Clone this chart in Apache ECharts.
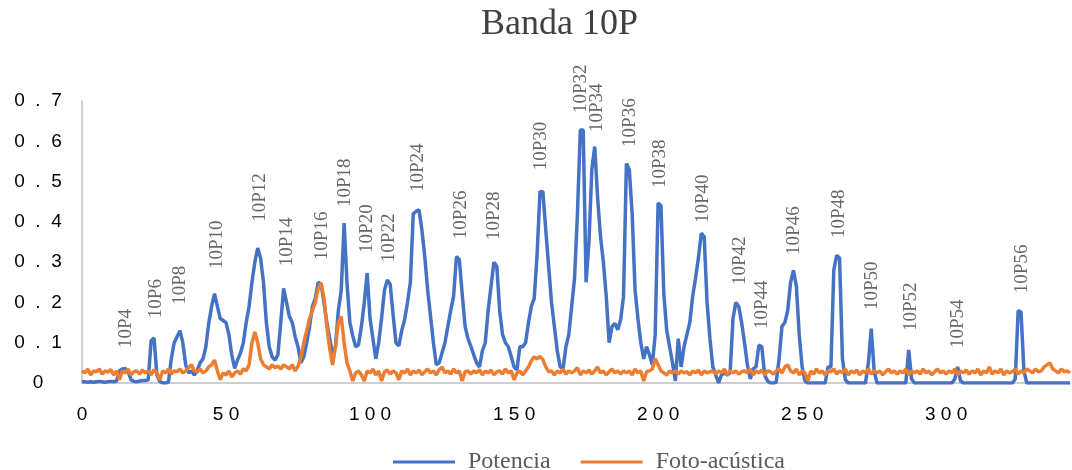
<!DOCTYPE html>
<html>
<head>
<meta charset="utf-8">
<script src="https://cdn.jsdelivr.net/npm/echarts@6/dist/echarts.min.js"></script>
<style>
  html, body { margin: 0; padding: 0; background: #fff; }
  #chart { width: 1072px; height: 470px; }
</style>
</head>
<body>
<div id="chart"></div>
<script>
// Potencia, one value per unit of x (0..343)
const potencia = [
  0.003, 0.003, 0.002, 0.003, 0.002, 0.003, 0.004, 0.003, 0.002, 0.003,
  0.004, 0.003, 0.005, 0.03, 0.035, 0.036, 0.03, 0.008, 0.004, 0.003,
  0.005, 0.006, 0.006, 0.008, 0.105, 0.112, 0.02, 0.004, 0.0, 0.0,
  0.002, 0.06, 0.1, 0.115, 0.13, 0.1, 0.045, 0.025, 0.03, 0.02,
  0.03, 0.05, 0.06, 0.09, 0.148, 0.19, 0.222, 0.19, 0.16, 0.155,
  0.15, 0.12, 0.07, 0.036, 0.057, 0.074, 0.1, 0.15, 0.19, 0.25,
  0.3, 0.335, 0.31, 0.25, 0.15, 0.09, 0.065, 0.057, 0.07, 0.15,
  0.235, 0.2, 0.165, 0.15, 0.115, 0.09, 0.05, 0.065, 0.1, 0.14,
  0.19, 0.21, 0.25, 0.245, 0.2, 0.15, 0.11, 0.07, 0.09, 0.18,
  0.23, 0.397, 0.248, 0.15, 0.117, 0.09, 0.095, 0.14, 0.2, 0.273,
  0.16, 0.11, 0.06, 0.1, 0.16, 0.23, 0.256, 0.245, 0.17, 0.1,
  0.092, 0.13, 0.157, 0.2, 0.25, 0.42, 0.426, 0.43, 0.38, 0.314,
  0.231, 0.166, 0.1, 0.045, 0.05, 0.075, 0.1, 0.14, 0.18, 0.215,
  0.314, 0.306, 0.22, 0.14, 0.11, 0.091, 0.07, 0.05, 0.04, 0.08,
  0.1, 0.18, 0.24, 0.3, 0.29, 0.18, 0.12, 0.1, 0.09, 0.066,
  0.04, 0.033, 0.09, 0.09, 0.1, 0.15, 0.19, 0.21, 0.32, 0.475,
  0.475, 0.38, 0.29, 0.2, 0.14, 0.08, 0.04, 0.035, 0.09, 0.12,
  0.19, 0.26, 0.42, 0.628, 0.628, 0.25, 0.35, 0.53, 0.587, 0.46,
  0.364, 0.3, 0.215, 0.1, 0.14, 0.148, 0.132, 0.157, 0.215, 0.545,
  0.53, 0.42, 0.231, 0.16, 0.1, 0.06, 0.09, 0.07, 0.045, 0.12,
  0.447, 0.44, 0.22, 0.13, 0.09, 0.05, 0.005, 0.11, 0.04, 0.09,
  0.12, 0.15, 0.215, 0.26, 0.31, 0.372, 0.363, 0.2, 0.11, 0.04,
  0.02, 0.0, 0.02, 0.025, 0.02, 0.025, 0.16, 0.2, 0.19, 0.15,
  0.1, 0.045, 0.01, 0.035, 0.04, 0.094, 0.09, 0.02, 0.005, 0.0,
  0.0, 0.002, 0.06, 0.14, 0.15, 0.18, 0.25, 0.28, 0.24, 0.12,
  0.04, 0.005, 0.0, 0.0, 0.0, 0.0, 0.0, 0.0, 0.0, 0.04,
  0.04, 0.28, 0.317, 0.31, 0.06, 0.008, 0.0, 0.0, 0.0, 0.0,
  0.0, 0.0, 0.0, 0.05, 0.135, 0.03, 0.0, 0.0, 0.0, 0.0,
  0.0, 0.0, 0.0, 0.0, 0.0, 0.0, 0.0, 0.082, 0.01, 0.0,
  0.0, 0.0, 0.0, 0.0, 0.0, 0.0, 0.0, 0.0, 0.0, 0.0,
  0.0, 0.0, 0.0, 0.01, 0.04, 0.005, 0.0, 0.0, 0.0, 0.0,
  0.0, 0.0, 0.0, 0.0, 0.0, 0.0, 0.0, 0.0, 0.0, 0.0,
  0.0, 0.0, 0.0, 0.0, 0.01, 0.18, 0.176, 0.03, 0.0, 0.0,
  0.0, 0.0, 0.0, 0.0, 0.0, 0.0, 0.0, 0.0, 0.0, 0.0,
  0.0, 0.0, 0.0, 0.0
]

// Foto-acústica, one value per unit of x (0..343)
const fotoacustica = [
  0.03, 0.025, 0.035, 0.02, 0.03, 0.028, 0.035, 0.022, 0.03, 0.027,
  0.033, 0.02, 0.03, 0.008, 0.03, 0.025, 0.035, 0.02, 0.028, 0.03,
  0.022, 0.032, 0.025, 0.03, 0.02, 0.033, 0.025, 0.008, 0.03, 0.025,
  0.035, 0.022, 0.03, 0.028, 0.035, 0.025, 0.03, 0.038, 0.045, 0.03,
  0.028, 0.035, 0.025, 0.03, 0.04, 0.045, 0.057, 0.03, 0.008, 0.025,
  0.02, 0.03, 0.015, 0.025, 0.03, 0.022, 0.035, 0.03, 0.045, 0.1,
  0.127, 0.1, 0.06, 0.045, 0.04, 0.035, 0.045, 0.038, 0.042, 0.035,
  0.045, 0.04, 0.035, 0.045, 0.03, 0.042, 0.063, 0.1, 0.13, 0.16,
  0.18, 0.2, 0.235, 0.248, 0.21, 0.14, 0.085, 0.045, 0.09, 0.15,
  0.165, 0.1, 0.05, 0.03, 0.005, 0.025, 0.03, 0.02, 0.005, 0.03,
  0.025, 0.035, 0.02, 0.03, 0.005, 0.028, 0.032, 0.022, 0.03, 0.025,
  0.008, 0.03, 0.025, 0.035, 0.02, 0.03, 0.025, 0.032, 0.02, 0.028,
  0.035, 0.025, 0.03, 0.02, 0.033, 0.04, 0.025, 0.03, 0.022, 0.035,
  0.025, 0.03, 0.005, 0.028, 0.03, 0.022, 0.03, 0.025, 0.033, 0.02,
  0.03, 0.025, 0.032, 0.02, 0.028, 0.03, 0.022, 0.035, 0.025, 0.03,
  0.008, 0.025, 0.03, 0.02, 0.03, 0.04, 0.055, 0.065, 0.06, 0.066,
  0.058, 0.04, 0.028, 0.03, 0.02, 0.03, 0.025, 0.035, 0.022, 0.03,
  0.025, 0.03, 0.038, 0.02, 0.03, 0.025, 0.032, 0.022, 0.03, 0.04,
  0.025, 0.03, 0.02, 0.028, 0.035, 0.025, 0.03, 0.022, 0.03, 0.025,
  0.03, 0.02, 0.035, 0.025, 0.03, 0.005, 0.028, 0.03, 0.035, 0.06,
  0.045, 0.03, 0.025, 0.02, 0.03, 0.025, 0.03, 0.022, 0.03, 0.025,
  0.028, 0.02, 0.03, 0.025, 0.032, 0.02, 0.03, 0.025, 0.028, 0.03,
  0.022, 0.03, 0.025, 0.035, 0.02, 0.03, 0.025, 0.03, 0.022, 0.028,
  0.03, 0.025, 0.035, 0.02, 0.03, 0.025, 0.032, 0.02, 0.03, 0.028,
  0.022, 0.03, 0.035, 0.025, 0.04, 0.045, 0.03, 0.025, 0.035, 0.02,
  0.03, 0.025, 0.005, 0.03, 0.022, 0.035, 0.025, 0.03, 0.02, 0.03,
  0.028, 0.035, 0.022, 0.03, 0.025, 0.035, 0.02, 0.03, 0.025, 0.032,
  0.02, 0.03, 0.025, 0.035, 0.022, 0.03, 0.025, 0.03, 0.02, 0.028,
  0.035, 0.025, 0.03, 0.022, 0.03, 0.025, 0.035, 0.02, 0.03, 0.025,
  0.03, 0.022, 0.035, 0.025, 0.03, 0.02, 0.028, 0.035, 0.025, 0.03,
  0.022, 0.03, 0.025, 0.035, 0.02, 0.03, 0.025, 0.032, 0.022, 0.03,
  0.025, 0.035, 0.02, 0.03, 0.025, 0.04, 0.022, 0.03, 0.025, 0.035,
  0.02, 0.03, 0.025, 0.028, 0.035, 0.022, 0.03, 0.025, 0.035, 0.03,
  0.025, 0.035, 0.028, 0.03, 0.04, 0.045, 0.05, 0.035, 0.03, 0.025,
  0.035, 0.028, 0.03, 0.025
]

// line names and where each label sits (x, y at its lower end)
const lineNames = ['10P4', '10P6', '10P8', '10P10', '10P12', '10P14', '10P16', '10P18', '10P20',
  '10P22', '10P24', '10P26', '10P28', '10P30', '10P32', '10P34', '10P36', '10P38', '10P40',
  '10P42', '10P44', '10P46', '10P48', '10P50', '10P52', '10P54', '10P56']
const lineX = [15.2, 25.7, 34.1, 46.9, 61.9, 71.3, 83.4, 91.4, 99, 106.7, 116.8, 131.7, 143.2,
  159.2, 173.1, 178.7, 190.1, 200.5, 215.5, 228.4, 236, 247.1, 262.8, 274.3, 287.8, 304.1, 326.4]
const lineY = [0.087, 0.161, 0.194, 0.283, 0.4, 0.29, 0.305, 0.437, 0.323, 0.3, 0.474, 0.357, 0.355,
  0.528, 0.67, 0.623, 0.586, 0.484, 0.397, 0.243, 0.134, 0.318, 0.36, 0.181, 0.129, 0.087, 0.223]

// spread the characters of a tick label
const spaced = (v, gap) => String(v).split('').join(gap)

const chart = echarts.init(document.getElementById('chart'))

chart.setOption({
  animation: false,
  title: {
    text: 'Banda 10P',
    left: 476,
    top: 2,
    textStyle: {
      fontFamily: 'Liberation Serif',
      fontSize: 36,
      fontWeight: 'normal',
      color: '#404040'
    }
  },
  legend: {
    data: ['Potencia', 'Foto-acústica'],
    icon: 'rect',
    left: 393,
    top: 450,
    padding: 0,
    itemWidth: 62,
    itemHeight: 3,
    itemGap: 30,
    textStyle: {
      fontFamily: 'Liberation Serif',
      fontSize: 24,
      lineHeight: 20,
      color: '#595959',
      padding: [0, 0, 0, 8]
    }
  },
  grid: {
    left: 82,
    right: 2,
    top: 101,
    bottom: 87
  },
  xAxis: {
    type: 'value',
    min: 0,
    max: 343,
    interval: 50,
    splitLine: { show: false },
    axisTick: { show: false },
    axisLine: { lineStyle: { color: '#bfbfbf', width: 1.5 } },
    axisLabel: {
      showMaxLabel: false,
      margin: 22,
      fontFamily: 'Liberation Sans',
      fontSize: 19,
      color: '#000',
      formatter: v => spaced(v, ' ')
    }
  },
  yAxis: {
    type: 'value',
    min: 0,
    max: 0.7,
    interval: 0.1,
    splitLine: { show: false },
    axisTick: { show: false },
    axisLine: { show: true, lineStyle: { color: '#bfbfbf', width: 1.5 } },
    axisLabel: {
      margin: 44,
      align: 'center',
      fontFamily: 'Liberation Sans',
      fontSize: 19,
      color: '#000',
      formatter: v => v === 0 ? '0' : spaced(v.toFixed(1), '  ')
    }
  },
  series: [
    {
      name: 'Potencia',
      type: 'line',
      symbol: 'none',
      data: potencia.map((v, i) => [i, v]),
      lineStyle: { color: '#4472C4', width: 3.5 },
      itemStyle: { color: '#4472C4' },
      z: 2
    },
    {
      name: 'Foto-acústica',
      type: 'line',
      symbol: 'none',
      data: fotoacustica.map((v, i) => [i, v]),
      lineStyle: { color: '#ED7D31', width: 3.5 },
      itemStyle: { color: '#ED7D31' },
      z: 3
    },
    {
      name: 'etiquetas',
      type: 'scatter',
      symbolSize: 0,
      silent: true,
      z: 4,
      data: lineNames.map((n, i) => ({ name: n, value: [lineX[i], lineY[i]] })),
      label: {
        show: true,
        position: 'inside',
        rotate: 90,
        align: 'left',
        verticalAlign: 'middle',
        formatter: p => p.name,
        fontFamily: 'Liberation Serif',
        fontSize: 19,
        color: '#404040'
      }
    }
  ]
})
</script>
</body>
</html>
